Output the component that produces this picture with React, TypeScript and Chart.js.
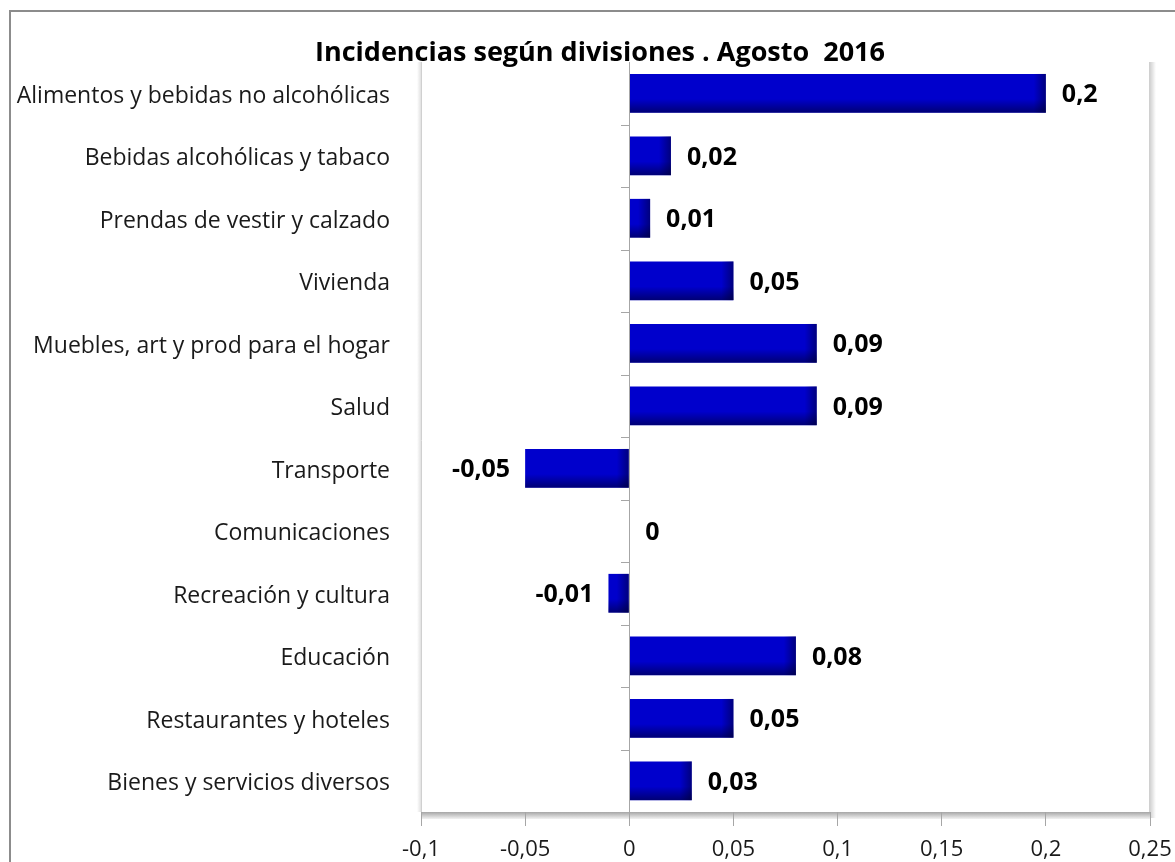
import React, { useEffect, useRef } from "react";
import { Chart, registerables } from "chart.js";

Chart.register(...registerables);

const categories = [
  "Alimentos y bebidas no alcohólicas",
  "Bebidas alcohólicas y tabaco",
  "Prendas de vestir y calzado",
  "Vivienda",
  "Muebles, art y prod para el hogar",
  "Salud",
  "Transporte",
  "Comunicaciones",
  "Recreación y cultura",
  "Educación",
  "Restaurantes y hoteles",
  "Bienes y servicios diversos",
];

const values = [0.2, 0.02, 0.01, 0.05, 0.09, 0.09, -0.05, 0, -0.01, 0.08, 0.05, 0.03];

const xTickValues = [-0.1, -0.05, 0, 0.05, 0.1, 0.15, 0.2, 0.25];
const xTickLabels = ["-0,1", "-0,05", "0", "0,05", "0,1", "0,15", "0,2", "0,25"];

const chartTitle = "Incidencias según divisiones . Agosto  2016";

const FONT = "'Open Sans', sans-serif";

const fmt = (v: number) => String(Number(v.toFixed(2))).replace(".", ",");

const decorPlugin = {
  id: "decor",
  beforeDraw(chart: any) {
    const { ctx, chartArea } = chart;
    const { left, right, top, bottom } = chartArea;
    ctx.save();
    ctx.fillStyle = "#ffffff";
    ctx.fillRect(0, 0, chart.width, chart.height);
    // outer frame
    ctx.strokeStyle = "#8c8c8c";
    ctx.lineWidth = 2;
    ctx.beginPath();
    ctx.moveTo(10, chart.height);
    ctx.lineTo(10, 11);
    ctx.lineTo(chart.width, 11);
    ctx.stroke();
    // right wall shadow
    const g = ctx.createLinearGradient(right, 0, right + 6, 0);
    g.addColorStop(0, "rgba(0,0,0,0.18)");
    g.addColorStop(1, "rgba(0,0,0,0)");
    ctx.fillStyle = g;
    ctx.fillRect(right, top, 6, bottom - top + 6);
    // left edge shadow
    const g2 = ctx.createLinearGradient(left - 4, 0, left, 0);
    g2.addColorStop(0, "rgba(0,0,0,0)");
    g2.addColorStop(1, "rgba(0,0,0,0.12)");
    ctx.fillStyle = g2;
    ctx.fillRect(left - 4, top, 4, bottom - top);
    // floor
    const fg = ctx.createLinearGradient(0, bottom, 0, bottom + 7);
    fg.addColorStop(0, "#a6a6a6");
    fg.addColorStop(1, "#f2f2f2");
    ctx.fillStyle = fg;
    ctx.fillRect(left, bottom, right - left, 7);
    ctx.strokeStyle = "#d0d0d0";
    ctx.lineWidth = 1;
    ctx.beginPath();
    ctx.moveTo(left + 0.5, top);
    ctx.lineTo(left + 0.5, bottom + 7);
    ctx.moveTo(right - 0.5, top);
    ctx.lineTo(right - 0.5, bottom);
    ctx.stroke();
    ctx.restore();
  },
  afterDatasetsDraw(chart: any) {
    const { ctx } = chart;
    const meta = chart.getDatasetMeta(0);
    const xs = chart.scales.x;
    const ys = chart.scales.y;
    const zeroX = xs.getPixelForValue(0);
    ctx.save();
    // bar shading
    meta.data.forEach((el: any) => {
      const p = el.getProps(["x", "y", "base", "height"], true);
      const l = Math.min(p.x, p.base);
      const r = Math.max(p.x, p.base);
      const t = p.y - p.height / 2;
      const b = p.y + p.height / 2;
      if (r - l < 0.5) return;
      const vg = ctx.createLinearGradient(0, t, 0, b);
      vg.addColorStop(0, "rgba(0,0,30,0)");
      vg.addColorStop(0.65, "rgba(0,0,30,0)");
      vg.addColorStop(1, "rgba(0,0,30,0.5)");
      ctx.fillStyle = vg;
      ctx.fillRect(l, t, r - l, b - t);
      const w = Math.min(12, r - l);
      const hg = ctx.createLinearGradient(r - w, 0, r, 0);
      hg.addColorStop(0, "rgba(0,0,30,0)");
      hg.addColorStop(1, "rgba(0,0,30,0.45)");
      ctx.fillStyle = hg;
      ctx.fillRect(r - w, t, w, b - t);
    });
    // zero axis line with category ticks
    ctx.strokeStyle = "#a6a6a6";
    ctx.lineWidth = 1;
    ctx.beginPath();
    ctx.moveTo(Math.round(zeroX) + 0.5, chart.chartArea.top);
    ctx.lineTo(Math.round(zeroX) + 0.5, chart.chartArea.bottom);
    for (let i = 0; i < categories.length - 1; i++) {
      const yy = Math.round((ys.getPixelForValue(i) + ys.getPixelForValue(i + 1)) / 2) + 0.5;
      ctx.moveTo(Math.round(zeroX) - 8, yy);
      ctx.lineTo(Math.round(zeroX), yy);
    }
    ctx.stroke();
    // data labels
    ctx.fillStyle = "#000000";
    ctx.font = `bold 25px ${FONT}`;
    ctx.textBaseline = "middle";
    meta.data.forEach((el: any, i: number) => {
      const v = values[i];
      const p = el.getProps(["x", "y"], true);
      if (v < 0) {
        ctx.textAlign = "right";
        ctx.fillText(fmt(v), p.x - 15, p.y + 2);
      } else {
        ctx.textAlign = "left";
        ctx.fillText(fmt(v), p.x + 16, p.y + 2);
      }
    });
    // title
    ctx.font = `bold 27px ${FONT}`;
    ctx.textAlign = "center";
    ctx.textBaseline = "middle";
    ctx.fillText(chartTitle, 600, 53);
    ctx.restore();
  },
};

export default function App() {
  const ref = useRef<HTMLCanvasElement | null>(null);
  useEffect(() => {
    if (!ref.current) return;
    const chart = new Chart(ref.current, {
      type: "bar",
      data: {
        labels: categories,
        datasets: [
          {
            data: values,
            backgroundColor: "#0000cc",
            borderWidth: 0,
            categoryPercentage: 1,
            barPercentage: 0.62,
          },
        ],
      },
      options: {
        indexAxis: "y",
        responsive: false,
        animation: false,
        layout: { padding: { left: 0, right: 25, top: 62, bottom: 0 } },
        plugins: {
          legend: { display: false },
          tooltip: { enabled: false },
          title: { display: false },
        },
        scales: {
          x: {
            type: "linear",
            min: -0.1,
            max: 0.25,
            afterBuildTicks: (scale: any) => {
              scale.ticks = xTickValues.map((v) => ({ value: v }));
            },
            afterFit: (scale: any) => {
              scale.height = 50;
              scale.paddingLeft = 0;
              scale.paddingRight = 0;
            },
            grid: {
              drawOnChartArea: false,
              drawTicks: true,
              tickLength: 14,
              tickColor: "#a6a6a6",
            },
            border: { display: false },
            ticks: {
              padding: 11,
              color: "#1a1a1a",
              font: { family: FONT, size: 22 },
              callback: (v: any) => {
                const idx = xTickValues.findIndex((t) => Math.abs(t - Number(v)) < 1e-9);
                return idx >= 0 ? xTickLabels[idx] : "";
              },
            },
          },
          y: {
            type: "category",
            afterFit: (scale: any) => {
              scale.width = 421;
            },
            grid: { display: false, drawTicks: false },
            border: { display: false },
            ticks: {
              padding: 31,
              labelOffset: 3,
              color: "#1a1a1a",
              font: { family: FONT, size: 23 },
            },
          },
        },
      },
      plugins: [decorPlugin],
    });
    return () => chart.destroy();
  }, []);
  return (
    <div style={{ position: "absolute", left: 0, top: 0, width: 1175, height: 862 }}>
      <canvas ref={ref} width={1175} height={862} />
    </div>
  );
}
